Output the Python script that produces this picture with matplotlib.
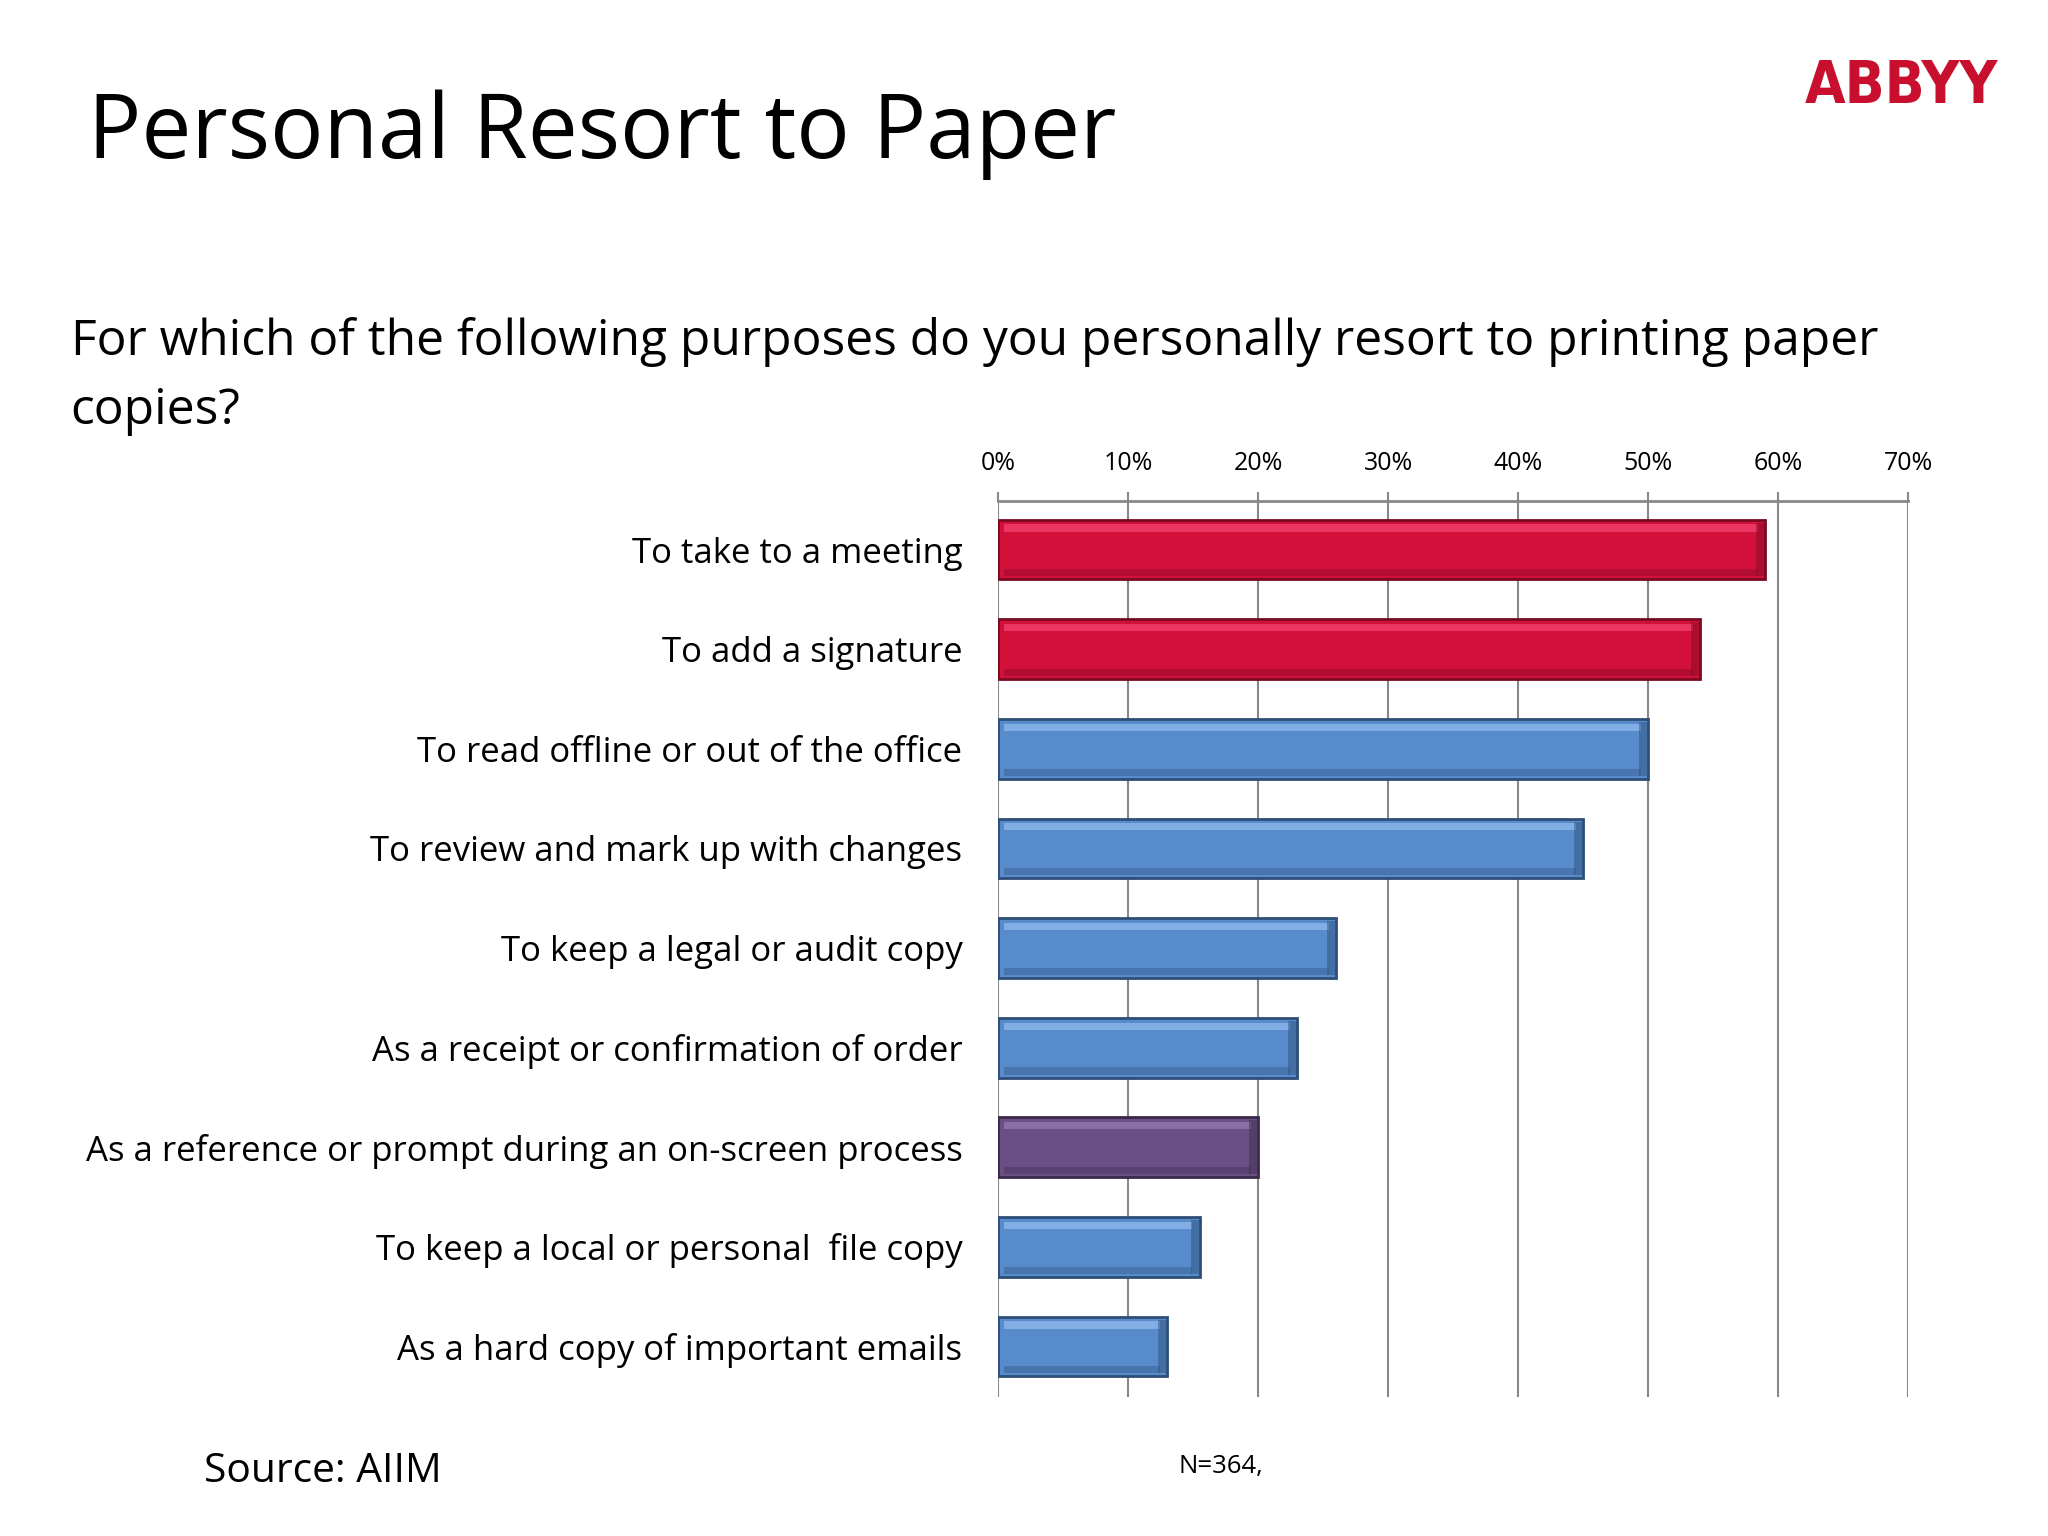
import matplotlib
matplotlib.use("Agg")
import matplotlib.pyplot as plt
import numpy as np

categories = [
    "To take to a meeting",
    "To add a signature",
    "To read offline or out of the office",
    "To review and mark up with changes",
    "To keep a legal or audit copy",
    "As a receipt or confirmation of order",
    "As a reference or prompt during an on-screen process",
    "To keep a local or personal  file copy",
    "As a hard copy of important emails",
]
values = [59, 54, 50, 45, 26, 23, 20, 15.5, 13]
groups = ["red", "red", "blue", "blue", "blue", "blue", "purple", "blue", "blue"]
tick_values = [0, 10, 20, 30, 40, 50, 60, 70]
tick_labels = ["0%", "10%", "20%", "30%", "40%", "50%", "60%", "70%"]

palette = {"red": "#D3103A", "blue": "#578BCB", "purple": "#6A4F85"}
edge = {"red": "#7A0A22", "blue": "#2E4E78", "purple": "#3A2A4A"}
light = {"red": "#F0406A", "blue": "#8DB8EC", "purple": "#9278AC"}

FONT = "Open Sans"
plt.rcParams["font.family"] = [FONT, "DejaVu Sans"]

fig = plt.figure(figsize=(20.48, 15.36), dpi=100)
ax = fig.add_axes([0.4875, 0.0903, 0.4443, 0.5837])

y = np.arange(len(categories))
vals = np.array(values, dtype=float)
h = 0.60
cols = [palette[g] for g in groups]
ecols = [edge[g] for g in groups]
lcols = [light[g] for g in groups]

ax.barh(y, vals, height=h, color=cols, edgecolor=ecols, linewidth=2.0, zorder=3)
# bevel highlight on top
ax.barh(y - h * 0.36, vals - 1.0, left=0.4, height=h * 0.12,
        color=lcols, linewidth=0, zorder=4, alpha=0.8)
# darker lower band
ax.barh(y + h * 0.39, vals - 1.0, left=0.4, height=h * 0.12,
        color=ecols, linewidth=0, zorder=4, alpha=0.35)
# darker right end
ax.barh(y, 0.6, left=vals - 0.7, height=h * 0.9,
        color=ecols, linewidth=0, zorder=4, alpha=0.45)

ax.set_xlim(0, 70)
ax.set_ylim(8.51, -0.49)
ax.xaxis.tick_top()
ax.set_xticks(tick_values)
ax.set_xticklabels(tick_labels, fontsize=18)
ax.tick_params(axis="x", direction="out", length=6.5, width=1.5, color="#888888", pad=11)
ax.set_yticks(y)
ax.set_yticklabels(categories, fontsize=25)
ax.tick_params(axis="y", length=0, pad=26)
ax.grid(axis="x", color="#888888", linewidth=1.5, zorder=0)
for s in ["left", "right", "bottom"]:
    ax.spines[s].set_visible(False)
ax.spines["top"].set_color("#888888")
ax.spines["top"].set_linewidth(2)

fig.text(0.043, 0.897, "Personal Resort to Paper", fontsize=64, va="baseline", ha="left")
fig.text(0.0345, 0.7689, "For which of the following purposes do you personally resort to printing paper",
         fontsize=35.8, va="baseline", ha="left")
fig.text(0.0345, 0.724, "copies?", fontsize=35.8, va="baseline", ha="left")
fig.text(0.9756, 0.944, "ABBYY", fontsize=42, va="center", ha="right", color="#C8102E",
         family="DejaVu Sans", fontweight="bold", fontstretch="condensed")
fig.text(0.0995, 0.0354, "Source: AIIM", fontsize=29.3, va="baseline", ha="left")
fig.text(0.5755, 0.045, "N=364,", fontsize=18.5, va="center", ha="left")

fig.savefig("out.png", dpi=100)
